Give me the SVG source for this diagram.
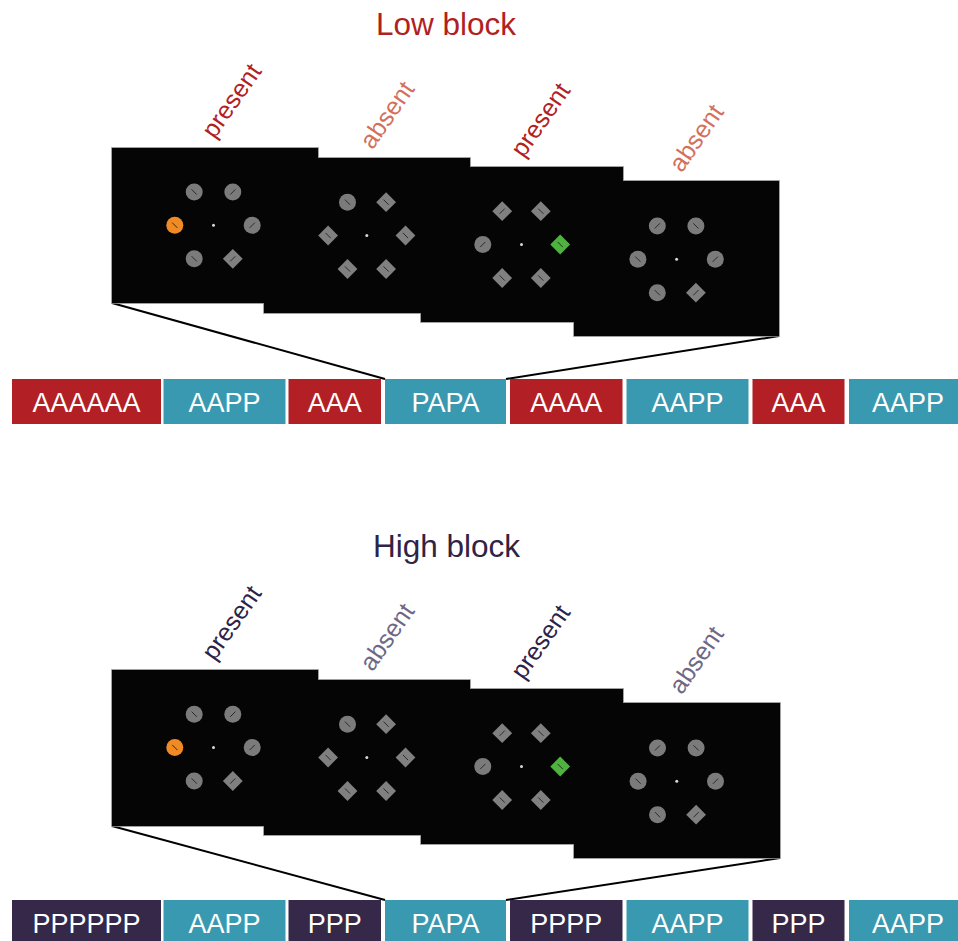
<svg xmlns="http://www.w3.org/2000/svg" xmlns:xlink="http://www.w3.org/1999/xlink" width="958" height="941" viewBox="0 0 958 941">
  <style>
    text { font-family: "Liberation Sans", Arial, sans-serif; }
    .title { font-size: 31.5px; text-anchor: middle; }
    .lab { font-size: 25px; text-anchor: middle; }
    .seq { font-size: 27px; fill: #ffffff; text-anchor: middle; }
    .edge { fill: none; stroke: #8a8a8a; stroke-width: 1.6; }
    .scr { fill: #050505; }
    .gc { fill: #7b7b7b; }
    .gd { fill: #808080; }
    .tk { stroke: #2a2a2a; stroke-width: 1; fill: none; }
    .fx { fill: #d8d8d8; }
    .link { stroke: #000000; stroke-width: 2; fill: none; }
    .red { fill: #b21f25; }
    .teal { fill: #3999b1; }
    .plum { fill: #352849; }
    .lowT { fill: #b01f24; }
    .lowP { fill: #b2201f; }
    .lowA { fill: #d3705b; }
    .hiT { fill: #2f2346; }
    .hiP { fill: #2d2247; }
    .hiA { fill: #6f6786; }
  </style>
  <defs>
    <!-- search items: grey disc / diamond with a tilted bar -->
    <g id="c-b"><circle class="gc" r="8.5"/><path class="tk" d="M-2.6-2.6L2.6 2.6"/></g>
    <g id="c-f"><circle class="gc" r="8.5"/><path class="tk" d="M-2.6 2.6L2.6-2.6"/></g>
    <g id="d-b"><rect class="gd" x="-7" y="-7" width="14" height="14" transform="rotate(45)"/><path class="tk" d="M-2.6-2.6L2.6 2.6"/></g>
    <g id="d-f"><rect class="gd" x="-7" y="-7" width="14" height="14" transform="rotate(45)"/><path class="tk" d="M-2.6 2.6L2.6-2.6"/></g>
    <g id="o-b"><circle fill="#f08a24" r="8.5"/><path class="tk" d="M-2.6-2.6L2.6 2.6"/></g>
    <g id="g-b"><rect fill="#4db33d" x="-7" y="-7" width="14" height="14" transform="rotate(45)"/><path class="tk" d="M-2.6-2.6L2.6 2.6"/></g>

    <!-- displays 1..4 (items around a fixation point) -->
    <g id="disp1">
      <use xlink:href="#c-b" x="-19.3" y="-33.3"/>
      <use xlink:href="#c-f" x="19.3" y="-33.3"/>
      <use xlink:href="#o-b" x="-38.7" y="0"/>
      <use xlink:href="#c-f" x="38.7" y="0"/>
      <use xlink:href="#c-b" x="-19.3" y="33.5"/>
      <use xlink:href="#d-f" x="19.3" y="33.5"/>
      <circle class="fx" r="1.5"/>
    </g>
    <g id="disp2">
      <use xlink:href="#c-b" x="-19.3" y="-33.3"/>
      <use xlink:href="#d-b" x="19.3" y="-33.3"/>
      <use xlink:href="#d-b" x="-38.7" y="0"/>
      <use xlink:href="#d-b" x="38.7" y="0"/>
      <use xlink:href="#d-b" x="-19.3" y="33.5"/>
      <use xlink:href="#d-b" x="19.3" y="33.5"/>
      <circle class="fx" r="1.5"/>
    </g>
    <g id="disp3">
      <use xlink:href="#d-f" x="-19.3" y="-33.3"/>
      <use xlink:href="#d-b" x="19.3" y="-33.3"/>
      <use xlink:href="#c-f" x="-38.7" y="0"/>
      <use xlink:href="#g-b" x="38.7" y="0"/>
      <use xlink:href="#d-b" x="-19.3" y="33.5"/>
      <use xlink:href="#d-b" x="19.3" y="33.5"/>
      <circle class="fx" r="1.5"/>
    </g>
    <g id="disp4">
      <use xlink:href="#c-f" x="-19.3" y="-33.3"/>
      <use xlink:href="#c-b" x="19.3" y="-33.3"/>
      <use xlink:href="#c-b" x="-38.7" y="0"/>
      <use xlink:href="#c-f" x="38.7" y="0"/>
      <use xlink:href="#c-b" x="-19.3" y="33.5"/>
      <use xlink:href="#d-f" x="19.3" y="33.5"/>
      <circle class="fx" r="1.5"/>
    </g>
  </defs>

  <rect width="958" height="941" fill="#ffffff"/>

  <!-- ===== Low block ===== -->
  <g id="low-title"><text class="title lowT" x="446" y="35">Low block</text></g>

  <g id="low-links">
    <path class="link" d="M112 303L385 379"/>
    <path class="link" d="M779 336L506 379"/>
  </g>

  <g id="low-screens">
    <!-- outlines first, fills on top so only the outer edge shows -->
    <rect class="edge" x="112" y="148" width="206" height="155"/>
    <rect class="edge" x="264" y="158" width="206" height="155"/>
    <rect class="edge" x="421" y="167" width="202" height="155"/>
    <rect class="edge" x="574" y="181" width="205" height="155"/>
    <rect class="scr" x="112" y="148" width="206" height="155"/>
    <rect class="scr" x="264" y="158" width="206" height="155"/>
    <rect class="scr" x="421" y="167" width="202" height="155"/>
    <rect class="scr" x="574" y="181" width="205" height="155"/>
  </g>
  <g id="low-s1"><use xlink:href="#disp1" x="213.5" y="225.3"/><text class="lab lowP" transform="translate(238.5 105.5) rotate(-55)">present</text></g>
  <g id="low-s2"><use xlink:href="#disp2" x="366.8" y="235.5"/><text class="lab lowA" transform="translate(394 119.7) rotate(-55)">absent</text></g>
  <g id="low-s3"><use xlink:href="#disp3" x="521.5" y="244.5"/><text class="lab lowP" transform="translate(547.4 124.7) rotate(-55)">present</text></g>
  <g id="low-s4"><use xlink:href="#disp4" x="676.6" y="259.2"/><text class="lab lowA" transform="translate(703.2 142.7) rotate(-55)">absent</text></g>

  <g id="low-seq">
    <g id="low-b1"><rect class="red" x="12" y="379" width="149" height="45"/><text class="seq" x="86.5" y="412">AAAAAA</text></g>
    <g id="low-b2"><rect class="teal" x="163.5" y="379" width="122" height="45"/><text class="seq" x="224.5" y="412">AAPP</text></g>
    <g id="low-b3"><rect class="red" x="288.5" y="379" width="92.5" height="45"/><text class="seq" x="334.7" y="412">AAA</text></g>
    <g id="low-b4"><rect class="teal" x="385" y="379" width="121" height="45"/><text class="seq" x="445.5" y="412">PAPA</text></g>
    <g id="low-b5"><rect class="red" x="510" y="379" width="112.5" height="45"/><text class="seq" x="566.2" y="412">AAAA</text></g>
    <g id="low-b6"><rect class="teal" x="626.5" y="379" width="122" height="45"/><text class="seq" x="687.5" y="412">AAPP</text></g>
    <g id="low-b7"><rect class="red" x="752.5" y="379" width="92" height="45"/><text class="seq" x="798.5" y="412">AAA</text></g>
    <g id="low-b8"><rect class="teal" x="849" y="379" width="112" height="45"/><text class="seq" x="908" y="412">AAPP</text></g>
  </g>

  <!-- ===== High block ===== -->
  <g id="high-title"><text class="title hiT" x="446.5" y="557">High block</text></g>

  <g id="high-links">
    <path class="link" d="M112 826L385 900"/>
    <path class="link" d="M780 858L506 900"/>
  </g>

  <g id="high-screens">
    <rect class="edge" x="112" y="670" width="206" height="156"/>
    <rect class="edge" x="264" y="680" width="206" height="155"/>
    <rect class="edge" x="421" y="689" width="202" height="155"/>
    <rect class="edge" x="574" y="703" width="206" height="155"/>
    <rect class="scr" x="112" y="670" width="206" height="156"/>
    <rect class="scr" x="264" y="680" width="206" height="155"/>
    <rect class="scr" x="421" y="689" width="202" height="155"/>
    <rect class="scr" x="574" y="703" width="206" height="155"/>
  </g>
  <g id="high-s1"><use xlink:href="#disp1" x="213.5" y="747.5"/><text class="lab hiP" transform="translate(238.5 627.5) rotate(-55)">present</text></g>
  <g id="high-s2"><use xlink:href="#disp2" x="366.8" y="757.5"/><text class="lab hiA" transform="translate(394 641.7) rotate(-55)">absent</text></g>
  <g id="high-s3"><use xlink:href="#disp3" x="521.5" y="766.5"/><text class="lab hiP" transform="translate(547.4 646.7) rotate(-55)">present</text></g>
  <g id="high-s4"><use xlink:href="#disp4" x="676.8" y="781.2"/><text class="lab hiA" transform="translate(703.2 664.7) rotate(-55)">absent</text></g>

  <g id="high-seq">
    <g id="high-b1"><rect class="plum" x="12" y="900" width="149" height="45"/><text class="seq" x="86.5" y="933">PPPPPP</text></g>
    <g id="high-b2"><rect class="teal" x="163.5" y="900" width="122" height="45"/><text class="seq" x="224.5" y="933">AAPP</text></g>
    <g id="high-b3"><rect class="plum" x="288.5" y="900" width="92.5" height="45"/><text class="seq" x="334.7" y="933">PPP</text></g>
    <g id="high-b4"><rect class="teal" x="385" y="900" width="121" height="45"/><text class="seq" x="445.5" y="933">PAPA</text></g>
    <g id="high-b5"><rect class="plum" x="510" y="900" width="112.5" height="45"/><text class="seq" x="566.2" y="933">PPPP</text></g>
    <g id="high-b6"><rect class="teal" x="626.5" y="900" width="122" height="45"/><text class="seq" x="687.5" y="933">AAPP</text></g>
    <g id="high-b7"><rect class="plum" x="752.5" y="900" width="92" height="45"/><text class="seq" x="798.5" y="933">PPP</text></g>
    <g id="high-b8"><rect class="teal" x="849" y="900" width="112" height="45"/><text class="seq" x="908" y="933">AAPP</text></g>
  </g>
</svg>
